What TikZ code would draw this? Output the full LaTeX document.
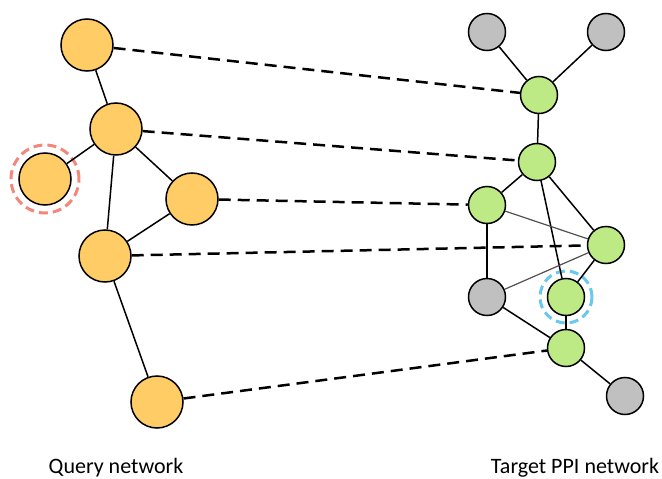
\documentclass[tikz,border=0pt]{standalone}
\usepackage{fontspec}
\setmainfont{Carlito}
\definecolor{qorange}{RGB}{255,204,102}
\definecolor{tgreen}{RGB}{190,234,133}
\definecolor{tgray}{RGB}{192,192,192}
\definecolor{ringred}{RGB}{244,135,122}
\definecolor{ringblue}{RGB}{104,200,240}
\definecolor{thinedge}{RGB}{80,80,80}
\begin{document}
\begin{tikzpicture}[x=1pt,y=-1pt,
  qnode/.style={circle,draw=black,line width=1.5pt,fill=qorange,minimum size=52pt,inner sep=0pt},
  gnode/.style={circle,draw=black,line width=1.5pt,fill=tgreen,minimum size=37pt,inner sep=0pt},
  ynode/.style={circle,draw=black,line width=1.5pt,fill=tgray,minimum size=37pt,inner sep=0pt},
  edge/.style={line width=1.5pt},
  thin edge/.style={line width=1.2pt,draw=thinedge},
  match/.style={line width=2.5pt,dash pattern=on 12pt off 7pt},
  ring/.style={circle,line width=3pt,dash pattern=on 9pt off 5pt,minimum size=#1,inner sep=0pt},
  lbl/.style={font=\fontsize{22}{24}\selectfont}]
\useasboundingbox (0,0) rectangle (662,479);
% query network
\node[qnode] (q1) at (87,45) {};
\node[qnode] (q2) at (116,129) {};
\node[qnode] (q3) at (45,179) {};
\node[qnode] (q4) at (192,199) {};
\node[qnode] (q5) at (105,256) {};
\node[qnode] (q6) at (157,402) {};
\node[ring=68pt,draw=ringred] (r1) at (q3) {};
% target network
\node[ynode] (g1) at (487,32) {};
\node[ynode] (g2) at (606,32) {};
\node[gnode] (t1) at (539,95) {};
\node[gnode] (t2) at (537,162) {};
\node[gnode] (t3) at (487,205) {};
\node[gnode] (t4) at (606,245) {};
\node[ynode] (g3) at (487,297) {};
\node[gnode] (t5) at (566,297) {};
\node[gnode] (t6) at (566,348) {};
\node[ynode] (g4) at (625,396) {};
\node[ring=52pt,draw=ringblue] (r2) at (t5) {};
% query edges
\draw[edge] (q1) -- (q2);
\draw[edge] (q2) -- (q3);
\draw[edge] (q2) -- (q4);
\draw[edge] (q2) -- (q5);
\draw[edge] (q4) -- (q5);
\draw[edge] (q5) -- (q6);
% target edges
\draw[edge] (g1) -- (t1);
\draw[edge] (g2) -- (t1);
\draw[edge] (t1) -- (t2);
\draw[edge] (t2) -- (t3);
\draw[edge] (t2) -- (t4);
\draw[edge] (t2) -- (t5);
\draw[thin edge] (t3) -- (t4);
\draw[edge] (t3) -- (g3);
\draw[thin edge] (g3) -- (t4);
\draw[edge] (t4) -- (t5);
\draw[edge] (g3) -- (t6);
\draw[edge] (t5) -- (t6);
\draw[edge] (t6) -- (g4);
% matches
\draw[match] (q1) -- (t1);
\draw[match] (q2) -- (t2);
\draw[match] (q4) -- (t3);
\draw[match] (q5) -- (t4);
\draw[match] (q6) -- (t6);
% labels
\node[lbl] (l1) at (116,468) {Query network};
\node[lbl] (l2) at (575,468) {Target PPI network};
\end{tikzpicture}
\end{document}
